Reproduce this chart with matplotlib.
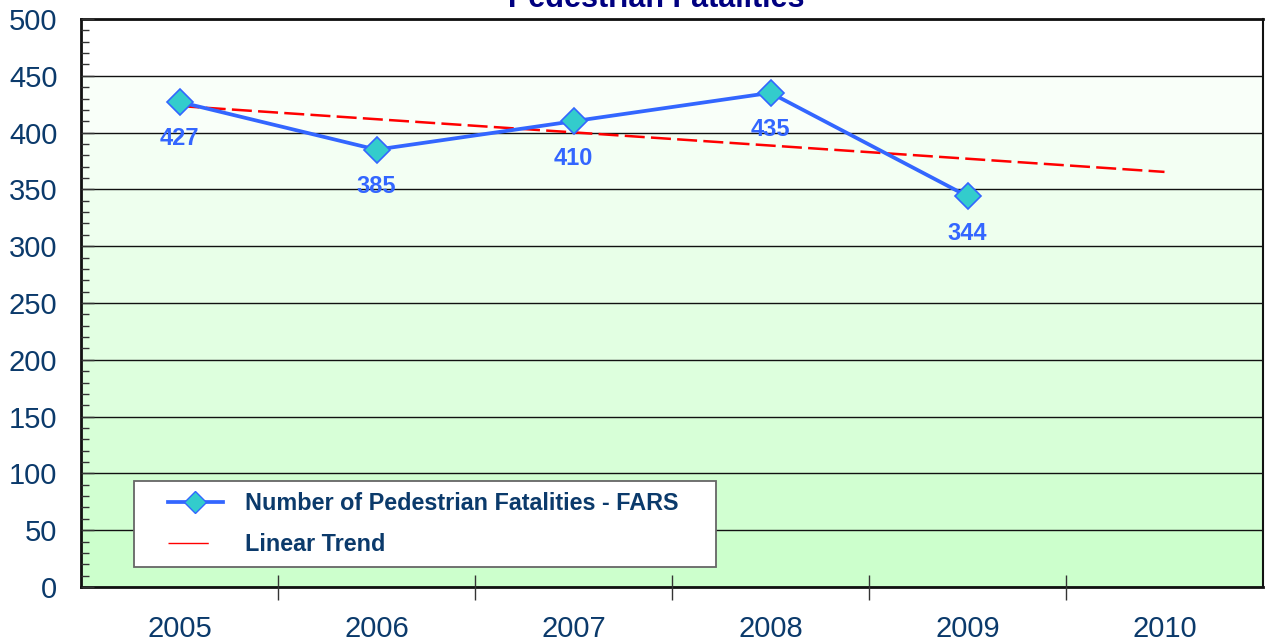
import numpy as np
import matplotlib
matplotlib.use("Agg")
import matplotlib.pyplot as plt
from matplotlib.colors import LinearSegmentedColormap
from matplotlib.lines import Line2D
from matplotlib.patches import Rectangle

years = ["2005", "2006", "2007", "2008", "2009", "2010"]
fatalities = [427, 385, 410, 435, 344]
title = "Pedestrian Fatalities"
series_label = "Number of Pedestrian Fatalities - FARS"
trend_label = "Linear Trend"

plt.rcParams['font.family'] = ['Liberation Sans', 'DejaVu Sans']
navy = "#0b3a6b"
blue = "#3366ff"

W, H = 1265, 642
fig = plt.figure(figsize=(W / 100, H / 100), dpi=100)
L, R, T, B = 81, 1263, 19, 587
ax = fig.add_axes([L / W, 1 - B / H, (R - L) / W, (B - T) / H])

def ax_x(px):
    return (px - L) / (R - L)

def ax_y(py):
    return (B - py) / (B - T)

ax.set_xlim(-0.5, len(years) - 0.5)
ax.set_ylim(0, 500)

# banded gradient background (one shade per gridline band)
cmap = LinearSegmentedColormap.from_list("g", ["#ccffcc", "#ffffff"])
bands = np.linspace(0, 1, 10).reshape(-1, 1)
ax.imshow(bands, extent=[-0.5, len(years) - 0.5, 0, 500], origin="lower",
          aspect="auto", cmap=cmap, interpolation="nearest", zorder=0)

ax.yaxis.grid(True, color="#111111", linewidth=1.0, zorder=1)
ax.set_axisbelow(False)

x = np.arange(len(fatalities))
ax.plot(x, fatalities, color=blue, linewidth=2.7, marker="D", markersize=13,
        markerfacecolor="#33cccc", markeredgecolor=blue, markeredgewidth=1.2,
        zorder=4)

coef = np.polyfit(x, fatalities, 1)
xt = np.array([0, len(years) - 1])
ax.plot(xt, np.polyval(coef, xt), color="#ff0000", linewidth=1.8,
        dashes=(8, 2.5), zorder=3)

for xi, v in zip(x, fatalities):
    ax.annotate(str(v), (xi, v), xytext=(0, -37), textcoords="offset pixels",
                ha="center", va="center", fontsize=17, fontweight="bold",
                color=blue, zorder=5)

# ticks
ax.set_yticks(np.arange(0, 501, 50))
ax.set_yticks(np.arange(0, 501, 10), minor=True)
ax.tick_params(axis="y", which="major", direction="in", length=9, width=1,
               labelsize=21, labelcolor=navy, pad=17, color="#333333")
ax.tick_params(axis="y", which="minor", direction="in", length=6, width=1,
               color="#333333")

ax.set_xticks(np.arange(0.5, len(years) - 1, 1))
ax.set_xticklabels([])
ax.set_xticks(np.arange(len(years)), minor=True)
ax.set_xticklabels(years, minor=True)
ax.tick_params(axis="x", which="major", direction="inout", length=18, width=1,
               color="#333333")
ax.tick_params(axis="x", which="minor", length=0, labelsize=21,
               labelcolor=navy, pad=20)

for s in ax.spines.values():
    s.set_color("#111111")
    s.set_linewidth(1.5)
ax.spines["left"].set_linewidth(2)
ax.spines["bottom"].set_linewidth(2)
ax.spines["top"].set_linewidth(2)

fig.text(656 / W, 1 - 7 / H, title, ha="center", va="baseline",
         fontsize=22, fontweight="bold", color="#000080")

# legend frame
ax.add_patch(Rectangle((ax_x(134), ax_y(567)), ax_x(716) - ax_x(134),
                       ax_y(481) - ax_y(567), transform=ax.transAxes,
                       facecolor="white", edgecolor="#666666", linewidth=1.3,
                       zorder=6))

handles = [
    Line2D([], [], color=blue, linewidth=2.7, marker="D", markersize=11,
           markerfacecolor="#33cccc", markeredgecolor=blue),
    Line2D([], [], color="#ff0000", linewidth=1.0, dashes=(29, 11)),
]
leg = ax.legend(handles, [series_label, trend_label], loc="center left",
                bbox_to_anchor=(ax_x(168), ax_y(524)), fontsize=16.8,
                frameon=False, handlelength=2.35, handletextpad=0.95,
                borderaxespad=0, borderpad=0, labelspacing=0.75)
for t in leg.get_texts():
    t.set_color(navy)
    t.set_fontweight("bold")
leg.set_zorder(7)

fig.savefig("out.png", dpi=100)
